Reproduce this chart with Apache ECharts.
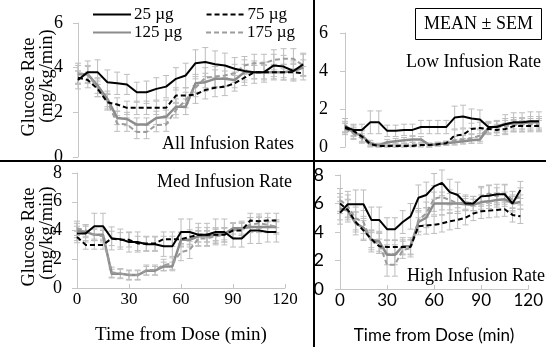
<!DOCTYPE html>
<html><head><meta charset="utf-8">
<script src="https://cdn.jsdelivr.net/npm/echarts@6/dist/echarts.min.js"></script>
<style>html,body{margin:0;padding:0;background:#fff}#c{width:546px;height:347px}</style>
</head><body><div id="c"></div>
<script>
// time points (min)
const times = [0,5,10,15,20,25,30,35,40,45,50,55,60,65,70,75,80,85,90,95,100,105,110,115];
const doses = ['25 µg','75 µg','125 µg','175 µg'];
const yTicksTop = [0,2,4,6];
const yTicksBottom = [0,2,4,6,8];
const xTicks = [0,30,60,90,120];

// All infusion rates
const all25  = [3.45,3.8,3.8,3.35,3.3,3.25,2.9,2.9,3.05,3.15,3.5,3.65,4.2,4.25,4.15,4.1,3.95,3.85,3.8,3.8,4.1,4.05,3.85,4.15];
const all75  = [3.55,3.45,3.05,2.45,2.35,2.2,2.2,2.2,2.2,2.2,2.75,2.75,2.8,3.0,3.1,3.15,3.3,3.55,3.8,3.8,3.8,3.8,3.8,3.75];
const all125 = [3.7,3.7,3.2,2.6,1.75,1.7,1.45,1.45,1.75,1.8,2.25,2.25,3.3,3.35,3.5,3.5,3.45,3.8,3.8,3.8,3.8,3.8,3.85,4.0];
const all175 = [3.75,3.7,3.1,2.5,1.5,1.45,1.12,1.12,1.43,1.45,2.1,2.55,3.1,3.55,3.6,3.65,3.75,4.1,4.2,4.2,4.35,4.4,4.4,4.1];
const allSem25  = [0.4,0.5,0.55,0.55,0.5,0.45,0.45,0.5,0.5,0.5,0.5,0.55,0.6,0.65,0.6,0.55,0.5,0.5,0.5,0.45,0.5,0.5,0.45,0.5];
const allSem75  = [0.3,0.35,0.35,0.35,0.3,0.3,0.3,0.3,0.3,0.35,0.35,0.35,0.4,0.4,0.4,0.4,0.35,0.35,0.3,0.3,0.3,0.35,0.35,0.3];
const allSem125 = [0.4,0.35,0.35,0.35,0.3,0.3,0.3,0.3,0.3,0.3,0.35,0.35,0.4,0.4,0.4,0.35,0.35,0.35,0.3,0.35,0.35,0.35,0.35,0.35];
const allSem175 = [0.45,0.4,0.4,0.35,0.35,0.3,0.3,0.3,0.3,0.3,0.35,0.35,0.4,0.45,0.45,0.45,0.4,0.4,0.4,0.4,0.45,0.45,0.45,0.5];

// Low infusion rate
const low25  = [1.05,0.9,0.9,1.3,1.3,0.85,0.85,0.9,0.9,1.05,1.05,1.05,1.05,1.55,1.6,1.5,1.45,1.05,1.05,1.2,1.3,1.3,1.35,1.35];
const low75  = [1.0,0.85,0.55,0.15,0.05,0.05,0.05,0.05,0.05,0.1,0.1,0.15,0.2,0.6,0.65,0.95,1.0,0.95,0.9,0.95,1.1,1.1,1.1,1.1];
const low125 = [1.15,0.75,0.6,0.2,0.1,0.25,0.3,0.35,0.4,0.4,0.1,0.15,0.2,0.25,0.3,0.35,0.4,1.0,1.1,1.2,1.25,1.25,1.3,1.3];
const low175 = [0.95,0.7,0.45,0.1,0.05,0.1,0.1,0.1,0.15,0.1,0.1,0.15,0.2,0.35,0.4,0.45,0.6,1.0,1.05,1.1,1.15,1.2,1.2,1.2];
const lowSem25  = [0.3,0.3,0.3,0.6,0.6,0.3,0.3,0.3,0.3,0.35,0.35,0.35,0.35,0.6,0.6,0.5,0.5,0.3,0.3,0.5,0.5,0.5,0.5,0.5];
const lowSem75  = [0.25,0.3,0.3,0.1,0.05,0.05,0.05,0.05,0.05,0.05,0.05,0.05,0.1,0.3,0.3,0.3,0.3,0.3,0.3,0.3,0.3,0.3,0.3,0.3];
const lowSem125 = [0.35,0.3,0.3,0.15,0.1,0.15,0.15,0.15,0.15,0.15,0.1,0.1,0.1,0.15,0.15,0.15,0.2,0.3,0.3,0.3,0.3,0.3,0.3,0.3];
const lowSem175 = [0.3,0.3,0.25,0.1,0.05,0.1,0.1,0.1,0.1,0.1,0.1,0.1,0.1,0.2,0.2,0.25,0.3,0.3,0.3,0.3,0.3,0.3,0.3,0.3];

// Med infusion rate
const med25  = [3.8,3.8,4.3,4.3,3.45,3.4,3.2,3.2,3.05,3.05,2.9,2.9,3.9,3.9,3.7,3.7,3.9,3.9,3.45,3.45,4.0,4.0,3.9,3.9];
const med75  = [3.55,3.0,3.0,3.0,3.45,3.35,3.35,3.1,3.1,3.1,3.4,3.4,3.4,3.55,3.7,3.7,3.7,3.7,4.0,4.0,4.7,4.65,4.7,4.7];
const med125 = [4.0,3.9,3.7,3.7,1.0,1.0,0.9,0.9,1.2,1.2,1.5,1.5,3.35,3.35,3.6,3.6,3.7,3.75,4.15,4.15,4.25,4.25,4.25,4.25];
const med175 = [4.15,4.0,3.7,3.6,1.1,1.0,0.9,0.9,1.25,1.25,1.6,1.7,2.5,2.65,3.45,3.45,3.6,3.7,4.0,4.15,4.4,4.5,4.4,4.25];
const medSem25  = [0.5,0.6,0.9,0.9,0.8,0.7,0.7,0.7,0.5,0.5,0.7,0.7,0.9,0.9,0.8,0.8,0.9,0.9,0.6,0.6,0.9,0.9,0.7,0.7];
const medSem75  = [0.4,0.3,0.3,0.3,0.5,0.5,0.5,0.5,0.5,0.5,0.5,0.5,0.5,0.5,0.5,0.5,0.5,0.5,0.5,0.5,0.5,0.5,0.5,0.5];
const medSem125 = [0.5,0.4,0.4,0.4,0.3,0.3,0.3,0.3,0.3,0.3,0.3,0.3,0.5,0.5,0.4,0.4,0.4,0.4,0.4,0.4,0.4,0.4,0.4,0.4];
const medSem175 = [0.5,0.4,0.4,0.4,0.35,0.35,0.35,0.35,0.35,0.35,0.4,0.4,0.6,0.6,0.5,0.5,0.5,0.5,0.5,0.5,0.5,0.5,0.5,0.5];

// High infusion rate
const high25  = [5.35,5.95,5.95,5.95,4.85,4.85,4.2,4.2,4.7,5.1,6.4,6.6,7.2,7.45,6.8,6.6,6.0,6.0,6.5,6.55,6.65,6.65,6.0,6.95];
const high75  = [6.0,5.55,4.7,4.1,3.5,3.0,2.95,2.95,2.95,2.95,4.4,4.45,4.5,4.6,4.75,4.85,5.0,5.3,5.45,5.5,5.55,5.6,5.2,5.1];
const high125 = [5.65,5.5,4.6,4.3,3.45,3.35,2.4,2.4,3.0,3.0,4.7,5.0,6.0,6.0,6.0,6.0,5.95,5.9,6.1,6.15,6.25,6.3,6.0,6.1];
const high175 = [6.25,5.8,4.95,4.7,3.3,3.2,1.7,1.7,2.75,2.85,4.85,5.3,6.35,6.45,6.25,6.0,6.1,6.0,6.5,6.7,6.5,6.7,6.25,6.5];
const highSem25  = [0.8,0.9,1.0,1.0,0.9,0.9,0.8,0.8,0.8,0.9,0.9,0.9,0.9,0.9,0.9,0.9,0.5,0.5,0.7,0.7,0.7,0.7,0.6,0.6];
const highSem75  = [0.7,0.7,0.7,0.7,0.6,0.5,0.5,0.5,0.5,0.5,0.6,0.6,0.6,0.6,0.6,0.6,0.5,0.5,0.5,0.5,0.5,0.5,0.5,0.5];
const highSem125 = [0.8,0.8,0.8,0.8,0.7,0.7,0.7,0.7,0.6,0.6,0.7,0.7,0.8,0.8,0.7,0.7,0.4,0.4,0.5,0.5,0.5,0.5,0.5,0.5];
const highSem175 = [0.8,0.8,0.8,0.8,0.7,0.7,0.8,0.8,0.6,0.6,0.8,0.8,0.9,0.9,0.7,0.7,0.5,0.5,0.6,0.6,0.6,0.6,0.6,0.6];

const panels = [
  {vals:[all25,all75,all125,all175], sems:[allSem25,allSem75,allSem125,allSem175]},
  {vals:[low25,low75,low125,low175], sems:[lowSem25,lowSem75,lowSem125,lowSem175]},
  {vals:[med25,med75,med125,med175], sems:[medSem25,medSem75,medSem125,medSem175]},
  {vals:[high25,high75,high125,high175], sems:[highSem25,highSem75,highSem125,highSem175]}
];

const SERIF = 'Liberation Serif';
const SANS = 'Lato';
const lineStyles = [
  {color:'#000000', type:'solid', width:2},
  {color:'#000000', type:[5,3], width:2},
  {color:'#8c8c8c', type:'solid', width:2.5},
  {color:'#9c9c9c', type:[5,3], width:2}
];

function errItem(params, api){
  const x = api.value(0), lo = api.value(1), hi = api.value(2);
  const a = api.coord([x, lo]), b = api.coord([x, hi]);
  const w = 3;
  const st = {stroke:'#bdbdbd', lineWidth:1};
  return {type:'group', children:[
    {type:'line', shape:{x1:a[0],y1:a[1],x2:b[0],y2:b[1]}, style:st},
    {type:'line', shape:{x1:a[0]-w,y1:a[1],x2:a[0]+w,y2:a[1]}, style:st},
    {type:'line', shape:{x1:b[0]-w,y1:b[1],x2:b[0]+w,y2:b[1]}, style:st}
  ]};
}

const series = [];
panels.forEach((p, gi) => {
  p.vals.forEach((v, si) => {
    const s = p.sems[si];
    series.push({
      type:'custom', name:'err'+gi+'_'+si, xAxisIndex:gi, yAxisIndex:gi, z:1,
      renderItem: errItem, silent:true,
      encode:{x:0, y:[1,2]},
      data: times.map((t,i)=>[t, v[i]-s[i], v[i]+s[i]])
    });
  });
});
panels.forEach((p, gi) => {
  p.vals.forEach((v, si) => {
    series.push({
      type:'line', name:doses[si], xAxisIndex:gi, yAxisIndex:gi, z:3 + (si<2?1:0),
      symbol:'none', showSymbol:false, silent:true, animation:false,
      lineStyle: lineStyles[si], itemStyle:{color:lineStyles[si].color},
      data: times.map((t,i)=>[t, v[i]])
    });
  });
});

const axisGray = '#c6c6c6';
function yAx(gi, max, font, margin){
  return {
    gridIndex:gi, type:'value', min:0, max:max, interval:2,
    axisLine:{show:true, lineStyle:{color:axisGray, width:1}},
    axisTick:{show:true, length:5, lineStyle:{color:axisGray}},
    splitLine:{show:false},
    axisLabel:{fontFamily:font, fontSize:18, color:'#000', margin:margin}
  };
}
function xAxBottom(gi, font, nameSize){
  return {
    gridIndex:gi, type:'value', min:0, max:120, interval:30,
    axisLine:{show:true, lineStyle:{color:axisGray, width:1}},
    axisTick:{show:true, inside:true, length:4, lineStyle:{color:axisGray}},
    splitLine:{show:false},
    axisLabel:{fontFamily:font, fontSize:17, color:'#000', margin:3},
    name:'Time from Dose (min)', nameLocation:'middle', nameGap:38,
    nameTextStyle:{fontFamily:font, fontSize:nameSize, color:'#000'}
  };
}
function yTitle(text, x, y){
  return {type:'text', x:x, y:y, rotation:Math.PI/2, z:10,
    style:{text:text, font:'18.5px "Liberation Serif"', fill:'#000', align:'center', verticalAlign:'middle'}};
}

const titleStyle = {fontFamily:SERIF, fontSize:18, fontWeight:'normal', color:'#000'};
const option = {
  animation:false,
  backgroundColor:'#fff',
  grid:[
    {left:78, top:23, width:235, height:134},
    {left:340, top:33, width:204, height:114},
    {left:77, top:173, width:208, height:115},
    {left:340, top:175, width:197, height:114}
  ],
  xAxis:[
    {gridIndex:0, type:'value', min:0, max:120, show:false},
    {gridIndex:1, type:'value', min:-3, max:118, show:false},
    xAxBottom(2, SERIF, 19),
    xAxBottom(3, SANS, 17)
  ],
  yAxis:[
    yAx(0, 6, SERIF, 15),
    yAx(1, 6, SERIF, 12),
    yAx(2, 8, SERIF, 15),
    yAx(3, 8, SANS, 16)
  ],
  legend:[
    {data:['25 µg','75 µg'], left:92, top:6, itemWidth:38, itemHeight:14, itemGap:32, padding:0,
     textStyle:{fontFamily:SERIF, fontSize:17, color:'#000', padding:[0,0,0,-2]}, selectedMode:false,
     itemStyle:{opacity:0}},
    {data:['125 µg','175 µg'], left:92, top:24, itemWidth:38, itemHeight:14, itemGap:23, padding:0,
     textStyle:{fontFamily:SERIF, fontSize:17, color:'#000', padding:[0,0,0,-2]}, selectedMode:false,
     itemStyle:{opacity:0}}
  ],
  title:[
    {text:'MEAN ± SEM', left:415, top:8, padding:[7,9,7,9], borderColor:'#000', borderWidth:1, textStyle:titleStyle},
    {text:'All Infusion Rates', left:162, top:135, padding:0, textStyle:titleStyle},
    {text:'Low Infusion Rate', left:406, top:53, padding:0, textStyle:titleStyle},
    {text:'Med Infusion Rate', left:157, top:173, padding:0, textStyle:titleStyle},
    {text:'High Infusion Rate', left:407, top:267, padding:0, textStyle:titleStyle}
  ],
  graphic:[
    {type:'line', shape:{x1:0,y1:161,x2:546,y2:161}, style:{stroke:'#000', lineWidth:2}, z:10},
    {type:'line', shape:{x1:314,y1:0,x2:314,y2:347}, style:{stroke:'#000', lineWidth:2}, z:10},
    yTitle('Glucose Rate', 29, 87),
    yTitle('(mg/kg/min)', 47, 76),
    yTitle('Glucose Rate', 29, 237),
    yTitle('(mg/kg/min)', 47, 233)
  ],
  series: series
};
const chart = echarts.init(document.getElementById('c'), null, {renderer:'canvas'});
chart.setOption(option);
</script></body></html>
